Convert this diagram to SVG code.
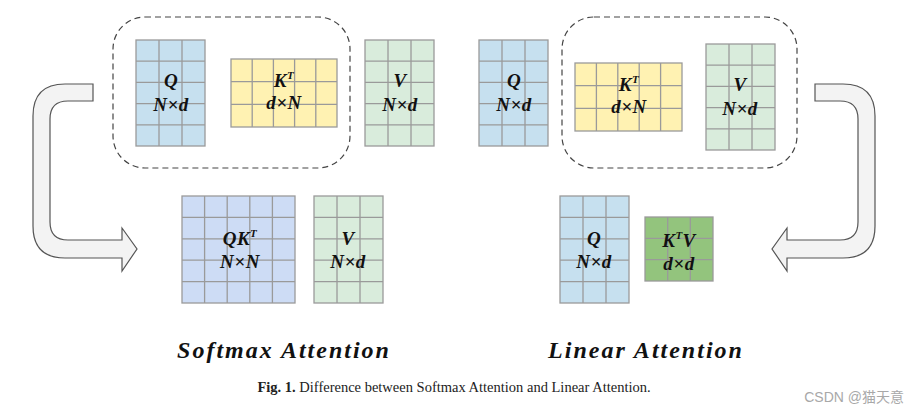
<svg xmlns="http://www.w3.org/2000/svg" width="912" height="411" viewBox="0 0 912 411">
<style>
.g{stroke:#9a9a9a;stroke-width:1.3}
.l{stroke:#9a9a9a;stroke-width:1.3;fill:none}
.t{font-family:"Liberation Serif",serif;font-weight:bold;font-style:italic;font-size:19px;text-anchor:middle;fill:#111;letter-spacing:0.5px}
.d{fill:none;stroke:#444;stroke-width:1.2;stroke-dasharray:6 4}
.a{fill:#f3f3f3;stroke:#555;stroke-width:1.2}
.h{font-family:"Liberation Serif",serif;font-weight:bold;font-style:italic;font-size:24px;text-anchor:middle;fill:#111;letter-spacing:2px}
</style>
<rect width="912" height="411" fill="#fff"/>
<g id="groups">
<rect class="d" x="113" y="17" width="237" height="151" rx="32"/>
<rect class="d" x="562" y="17" width="235" height="151" rx="32"/>
</g>
<g id="connectors">
<path class="a" d="M93,84 H65 Q33,84 33,116 V226 Q33,258 65,258 H122 V271 L137,249 L122,228 V240 H68 Q50,240 50,222 V119 Q50,101 68,101 H93 Z"/>
<path class="a" d="M815,84 H843 Q875,84 875,116 V226 Q875,258 843,258 H787 V271 L772,249 L787,228 V240 H840 Q858,240 858,222 V119 Q858,101 840,101 H815 Z"/>
</g>
<g id="Q1"><rect class="g" x="136" y="40" width="69" height="106" fill="#c6e0ef"/><path class="l" d="M159,40V146M182,40V146M136,61.2H205M136,82.4H205M136,103.6H205M136,124.8H205"/><text class="t" x="171" y="87">Q</text><text class="t" x="171" y="111">N×d</text></g>
<g id="K1"><rect class="g" x="231" y="59" width="106" height="68" fill="#fff2b2"/><path class="l" d="M252.2,59V127M273.4,59V127M294.6,59V127M315.8,59V127M231,81.7H337M231,104.3H337"/><text class="t" x="284" y="87">K<tspan font-size="11" dy="-8">T</tspan></text><text class="t" x="284" y="109">d×N</text></g>
<g id="V1"><rect class="g" x="365" y="40" width="69" height="106" fill="#d9ecdc"/><path class="l" d="M388,40V146M411,40V146M365,61.2H434M365,82.4H434M365,103.6H434M365,124.8H434"/><text class="t" x="400" y="87">V</text><text class="t" x="400" y="111">N×d</text></g>
<g id="QK"><rect class="g" x="182" y="196" width="113" height="107" fill="#cddcf5"/><path class="l" d="M204.6,196V303M227.2,196V303M249.8,196V303M272.4,196V303M182,217.4H295M182,238.8H295M182,260.2H295M182,281.6H295"/><text class="t" x="240" y="245">QK<tspan font-size="11" dy="-8">T</tspan></text><text class="t" x="240" y="268">N×N</text></g>
<g id="V2"><rect class="g" x="314" y="196" width="69" height="107" fill="#d9ecdc"/><path class="l" d="M337,196V303M360,196V303M314,217.4H383M314,238.8H383M314,260.2H383M314,281.6H383"/><text class="t" x="348" y="245">V</text><text class="t" x="348" y="268">N×d</text></g>
<g id="Q2"><rect class="g" x="479" y="40" width="69" height="106" fill="#c6e0ef"/><path class="l" d="M502,40V146M525,40V146M479,61.2H548M479,82.4H548M479,103.6H548M479,124.8H548"/><text class="t" x="514" y="87">Q</text><text class="t" x="514" y="111">N×d</text></g>
<g id="K2"><rect class="g" x="575" y="63" width="107" height="68" fill="#fff2b2"/><path class="l" d="M596.4,63V131M617.8,63V131M639.2,63V131M660.6,63V131M575,85.7H682M575,108.3H682"/><text class="t" x="629" y="91">K<tspan font-size="11" dy="-8">T</tspan></text><text class="t" x="629" y="113">d×N</text></g>
<g id="V3"><rect class="g" x="706" y="44" width="69" height="106" fill="#d9ecdc"/><path class="l" d="M729,44V150M752,44V150M706,65.2H775M706,86.4H775M706,107.6H775M706,128.8H775"/><text class="t" x="740" y="91">V</text><text class="t" x="740" y="115">N×d</text></g>
<g id="Q3"><rect class="g" x="560" y="196" width="69" height="107" fill="#c6e0ef"/><path class="l" d="M583,196V303M606,196V303M560,217.4H629M560,238.8H629M560,260.2H629M560,281.6H629"/><text class="t" x="594" y="245">Q</text><text class="t" x="594" y="268">N×d</text></g>
<g id="KV"><rect class="g" x="645" y="217" width="68" height="64" fill="#93c47d"/><path class="l" d="M667.7,217V281M690.3,217V281M645,238.3H713M645,259.7H713"/><text class="t" x="679" y="247">K<tspan font-size="11" dy="-8">T</tspan><tspan dy="8">V</tspan></text><text class="t" x="679" y="270">d×d</text></g>
<text class="h" x="284" y="358">Softmax Attention</text>
<text class="h" x="646" y="358">Linear Attention</text>
<text x="454" y="392" font-family="Liberation Serif,serif" font-size="14.5" text-anchor="middle" fill="#222"><tspan font-weight="bold">Fig. 1.</tspan>  Difference between Softmax Attention and Linear Attention.</text>
<text x="904" y="402" font-family="Liberation Sans,Noto Sans CJK SC,sans-serif" font-size="14" text-anchor="end" fill="#a8a8a8">CSDN @猫天意</text>
</svg>
